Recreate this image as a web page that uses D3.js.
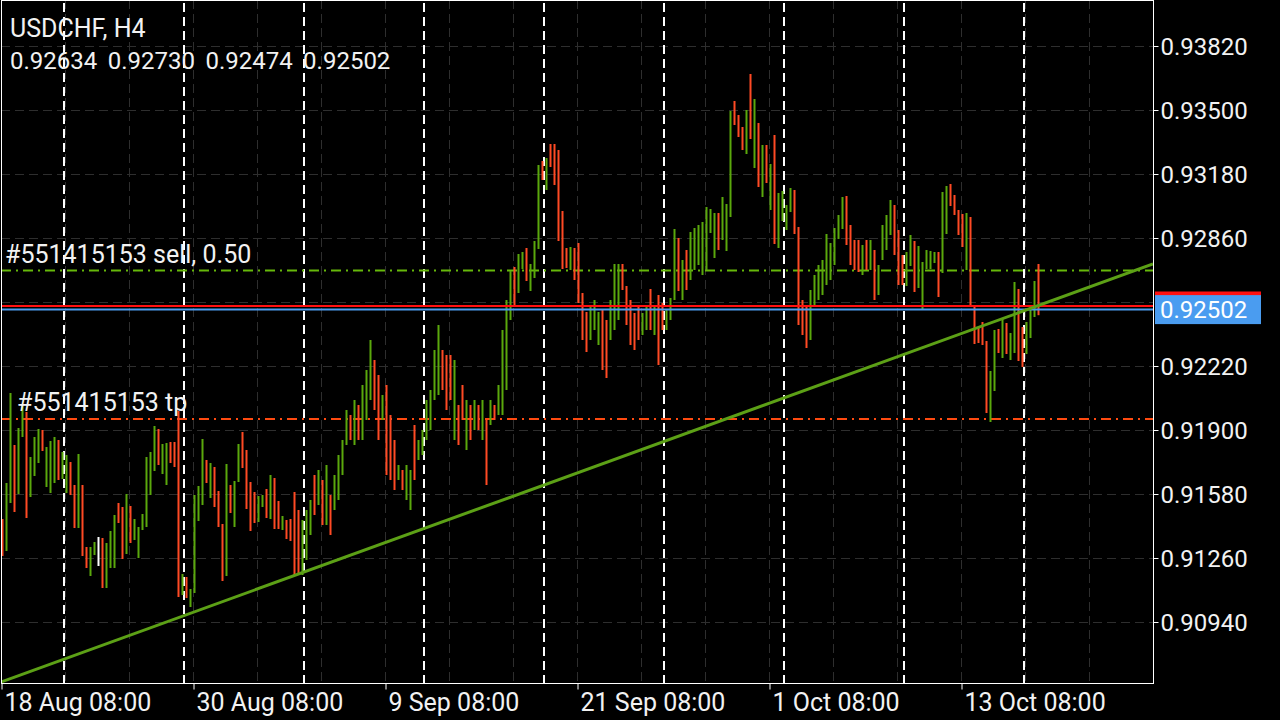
<!DOCTYPE html>
<html>
<head>
<meta charset="utf-8">
<script src="https://cdn.jsdelivr.net/npm/d3@7"></script>
<style>
  body { margin: 0; background: #000; }
  svg { display: block; font-family: Roboto, "Noto Sans", sans-serif; }
</style>
</head>
<body>
<div id="chart"></div>
<script>
// H4 bars, oldest first (high / low / direction u=up d=down n=doji)
const highs = [
  0.91455,0.91635,0.92085,0.91825,0.91910,0.92025,0.91990,0.91765,0.91865,0.91905,
  0.91900,0.91815,0.91845,0.91865,0.91850,0.91790,0.91775,0.91740,0.91625,0.91780,
  0.91625,0.91315,0.91315,0.91340,0.91365,0.91360,0.91335,0.91395,0.91475,0.91535,
  0.91515,0.91580,0.91520,0.91455,0.91415,0.91480,0.91765,0.91790,0.91920,0.91905,
  0.91830,0.91835,0.91840,0.91840,0.91995,0.91180,0.91165,0.91105,0.91575,0.91620,
  0.91855,0.91750,0.91735,0.91715,0.91595,0.91430,0.91730,0.91625,0.91645,0.91830,
  0.91890,0.91800,0.91640,0.91590,0.91570,0.91575,0.91605,0.91675,0.91660,0.91545,
  0.91470,0.91450,0.91455,0.91590,0.91500,0.91450,0.91500,0.91550,0.91675,0.91700,
  0.91650,0.91725,0.91575,0.91675,0.91775,0.91850,0.92000,0.91975,0.92050,0.92025,
  0.92125,0.92200,0.92350,0.92250,0.92175,0.92075,0.92125,0.91975,0.91850,0.91725,
  0.91700,0.91725,0.91700,0.91925,0.91850,0.91900,0.92050,0.92100,0.92300,0.92425,
  0.92300,0.92275,0.92275,0.92250,0.92025,0.92125,0.92050,0.92025,0.92050,0.92025,
  0.92050,0.91950,0.92050,0.92025,0.92125,0.92400,0.92550,0.92695,0.92715,0.92780,
  0.92790,0.92810,0.92730,0.92845,0.93225,0.93245,0.93260,0.93330,0.93330,0.93300,
  0.92995,0.92810,0.92815,0.92810,0.92835,0.92585,0.92490,0.92525,0.92550,0.92490,
  0.92500,0.92450,0.92550,0.92730,0.92730,0.92730,0.92620,0.92550,0.92485,0.92525,
  0.92485,0.92515,0.92605,0.92520,0.92575,0.92535,0.92500,0.92560,0.92905,0.92860,
  0.92750,0.92800,0.92890,0.92910,0.92925,0.92940,0.93015,0.93005,0.92985,0.92985,
  0.93065,0.93030,0.93495,0.93545,0.93475,0.93415,0.93500,0.93680,0.93555,0.93435,
  0.93325,0.93325,0.93230,0.93375,0.93085,0.93095,0.93025,0.93110,0.93100,0.92915,
  0.92550,0.92525,0.92600,0.92675,0.92725,0.92750,0.92880,0.92835,0.92910,0.92975,
  0.93065,0.93070,0.92925,0.92850,0.92850,0.92825,0.92850,0.92850,0.92800,0.92725,
  0.92925,0.92975,0.93050,0.93025,0.92900,0.92775,0.92790,0.92875,0.92845,0.92820,
  0.92740,0.92800,0.92795,0.92790,0.92790,0.93090,0.93120,0.93130,0.93075,0.93000,
  0.92980,0.92985,0.92965,0.92525,0.92415,0.92440,0.92345,0.92195,0.92400,0.92405,
  0.92460,0.92435,0.92385,0.92640,0.92605,0.92415,0.92440,0.92520,0.92645,0.92730
];
const lows = [
  0.91270,0.91295,0.91535,0.91490,0.91580,0.91865,0.91460,0.91565,0.91670,0.91735,
  0.91795,0.91615,0.91585,0.91635,0.91650,0.91655,0.91585,0.91575,0.91410,0.91410,
  0.91270,0.91210,0.91170,0.91275,0.91220,0.91110,0.91110,0.91210,0.91210,0.91435,
  0.91255,0.91280,0.91335,0.91350,0.91260,0.91400,0.91415,0.91575,0.91695,0.91725,
  0.91680,0.91625,0.91735,0.91715,0.91065,0.91075,0.91060,0.91015,0.91085,0.91445,
  0.91525,0.91635,0.91560,0.91515,0.91415,0.91145,0.91170,0.91485,0.91415,0.91640,
  0.91710,0.91505,0.91395,0.91435,0.91440,0.91515,0.91460,0.91455,0.91405,0.91405,
  0.91400,0.91355,0.91345,0.91170,0.91185,0.91175,0.91250,0.91375,0.91475,0.91525,
  0.91425,0.91425,0.91375,0.91500,0.91550,0.91675,0.91825,0.91850,0.91825,0.91850,
  0.91850,0.91950,0.92050,0.92000,0.91850,0.91950,0.91675,0.91650,0.91600,0.91650,
  0.91600,0.91550,0.91500,0.91650,0.91750,0.91775,0.91850,0.91900,0.92050,0.92075,
  0.92100,0.92000,0.92050,0.91850,0.91825,0.91950,0.91800,0.91850,0.91900,0.91900,
  0.91850,0.91625,0.91925,0.91950,0.91975,0.91975,0.92100,0.92450,0.92525,0.92585,
  0.92705,0.92645,0.92595,0.92660,0.92805,0.93150,0.93100,0.93215,0.93125,0.92845,
  0.92705,0.92710,0.92700,0.92650,0.92535,0.92350,0.92290,0.92350,0.92400,0.92325,
  0.92200,0.92160,0.92350,0.92400,0.92450,0.92600,0.92425,0.92325,0.92300,0.92350,
  0.92375,0.92400,0.92400,0.92375,0.92225,0.92400,0.92400,0.92450,0.92550,0.92595,
  0.92550,0.92600,0.92650,0.92700,0.92725,0.92675,0.92700,0.92885,0.92760,0.92800,
  0.92850,0.92795,0.92965,0.93425,0.93365,0.93300,0.93280,0.93355,0.93210,0.93115,
  0.93065,0.93135,0.93000,0.92830,0.92810,0.92945,0.92900,0.92990,0.92880,0.92425,
  0.92375,0.92310,0.92350,0.92525,0.92550,0.92575,0.92625,0.92650,0.92725,0.92855,
  0.92905,0.92825,0.92725,0.92700,0.92690,0.92675,0.92700,0.92700,0.92550,0.92575,
  0.92750,0.92800,0.92875,0.92775,0.92625,0.92625,0.92620,0.92720,0.92590,0.92610,
  0.92505,0.92705,0.92705,0.92735,0.92565,0.92685,0.92880,0.93020,0.92975,0.92875,
  0.92815,0.92700,0.92515,0.92330,0.92335,0.92325,0.91985,0.91940,0.92095,0.92285,
  0.92260,0.92280,0.92250,0.92285,0.92245,0.92215,0.92280,0.92360,0.92465,0.92474
];
const dirs =
  'duuduuduuu' + 'duuuduuddu' + 'dduunduuud' + 'duduuuuuud' + 'uuddduduuu' +
  'ududdduduu' + 'dddduududd' + 'udddduuudu' + 'duduuuudud' + 'uuuddudddu' +
  'duuduuuuuu' + 'ddduddudud' + 'ududuuuudu' + 'uduuududdd' + 'ddudddduuu' +
  'dduuuddddd' + 'uududduuud' + 'uduuuuuuud' + 'uuudddudud' + 'ududuuuudd' +
  'dduuuuuuuu' + 'uddddududu' + 'uuuddduudu' + 'uuuuduuddd' + 'duddddduud' +
  'uduudduuud';

const lastOHLC = ['0.92634', '0.92730', '0.92474', '0.92502'];
const bidPrice = 0.92502;
const askPrice = 0.92520;
const sellPrice = 0.92697;
const tpPrice = 0.91955;
const trendPoints = [[0, 0.90640], [288, 0.92730]];

const gridPrices = [0.93820, 0.93500, 0.93180, 0.92860, 0.92540, 0.92220, 0.91900, 0.91580, 0.91260, 0.90940];
// 0.92540 sits under the bid tag, so it gets no label
const priceTicks = [0.93820, 0.93500, 0.93180, 0.92860, 0.92220, 0.91900, 0.91580, 0.91260, 0.90940];
const timeTickBars = [0, 48, 96, 144, 192, 240];
const timeLabels = ['18 Aug 08:00', '30 Aug 08:00', '9 Sep 08:00', '21 Sep 08:00', '1 Oct 08:00', '13 Oct 08:00'];
const gridBars = [0, 16, 32, 48, 64, 80, 96, 112, 128, 144, 160, 176, 192, 208, 224, 240, 256, 272];
const weekStarts = [15.75, 45.75, 75.75, 105.75, 135.75, 165.75, 195.75, 225.75, 255.75];

const width = 1280;
const height = 720;
const plot = { left: 1, right: 1153, top: 0, bottom: 683 };

const upColor = '#5aa80c';
const downColor = '#ff4a24';
const textColor = '#f2f2f2';

const bars = highs.map((h, i) => ({ i, high: h, low: lows[i], dir: dirs[i] }));

const x = d3.scaleLinear().domain([0, 288]).range([plot.left, plot.right]);
const y = d3.scaleLinear().domain([0.90635, 0.94050]).range([plot.bottom, plot.top]);

const svg = d3.select('#chart')
  .append('svg')
  .attr('width', width)
  .attr('height', height)
  .style('background', '#000');

svg.append('defs').append('clipPath')
  .attr('id', 'plotClip')
  .append('rect')
  .attr('x', plot.left)
  .attr('y', plot.top)
  .attr('width', plot.right - plot.left)
  .attr('height', plot.bottom - plot.top);

// grid
const grid = svg.append('g').attr('stroke', '#2e2e2e').attr('stroke-width', 1).attr('stroke-dasharray', '9,5');
grid.selectAll('.hgrid')
  .data(gridPrices)
  .enter()
  .append('line')
  .attr('x1', plot.left)
  .attr('x2', plot.right)
  .attr('y1', d => Math.round(y(d)) + 0.5)
  .attr('y2', d => Math.round(y(d)) + 0.5);
grid.selectAll('.vgrid')
  .data(gridBars)
  .enter()
  .append('line')
  .attr('x1', d => x(d) + 0.5)
  .attr('x2', d => x(d) + 0.5)
  .attr('y1', plot.top)
  .attr('y2', plot.bottom);

// period separators
svg.append('g')
  .selectAll('line')
  .data(weekStarts)
  .enter()
  .append('line')
  .attr('x1', d => x(d))
  .attr('x2', d => x(d))
  .attr('y1', plot.top + 3)
  .attr('y2', plot.bottom)
  .attr('stroke', '#ffffff')
  .attr('stroke-width', 2)
  .attr('stroke-dasharray', '9,5');

// order levels
const levels = svg.append('g');
levels.append('line')
  .attr('x1', plot.left).attr('x2', plot.right)
  .attr('y1', y(sellPrice)).attr('y2', y(sellPrice))
  .attr('stroke', '#66b80a').attr('stroke-width', 2)
  .attr('stroke-dasharray', '10,5,2,5');
levels.append('line')
  .attr('x1', plot.left).attr('x2', plot.right)
  .attr('y1', y(tpPrice)).attr('y2', y(tpPrice))
  .attr('stroke', '#ff4a10').attr('stroke-width', 2)
  .attr('stroke-dasharray', '10,5,2,5');

// bars
svg.append('g')
  .selectAll('rect')
  .data(bars)
  .enter()
  .append('rect')
  .attr('x', d => x(d.i) + 0.5)
  .attr('width', 2)
  .attr('y', d => y(d.high))
  .attr('height', d => Math.max(1, y(d.low) - y(d.high)))
  .attr('fill', d => d.dir === 'u' ? upColor : d.dir === 'd' ? downColor : '#ffffff');

// ask / bid lines
svg.append('line')
  .attr('x1', plot.left).attr('x2', plot.right)
  .attr('y1', y(askPrice)).attr('y2', y(askPrice))
  .attr('stroke', '#ff1010').attr('stroke-width', 2);
svg.append('line')
  .attr('x1', plot.left).attr('x2', plot.right)
  .attr('y1', y(bidPrice)).attr('y2', y(bidPrice))
  .attr('stroke', '#4a9cf0').attr('stroke-width', 2);

// trend line
svg.append('line')
  .attr('clip-path', 'url(#plotClip)')
  .attr('x1', x(trendPoints[0][0])).attr('y1', y(trendPoints[0][1]))
  .attr('x2', x(trendPoints[1][0])).attr('y2', y(trendPoints[1][1]))
  .attr('stroke', '#5ca016').attr('stroke-width', 3);

// level labels
svg.append('text')
  .attr('x', 5).attr('y', y(sellPrice) - 8)
  .attr('fill', textColor).style('font-size', '25px')
  .text('#551415153 sell, 0.50');
svg.append('text')
  .attr('x', 17).attr('y', y(tpPrice) - 8)
  .attr('fill', textColor).style('font-size', '25px')
  .text('#551415153 tp');

// frame
svg.append('rect')
  .attr('x', plot.left + 0.5)
  .attr('y', plot.top + 0.5)
  .attr('width', plot.right - plot.left)
  .attr('height', plot.bottom - plot.top)
  .attr('fill', 'none')
  .attr('stroke', '#ffffff')
  .attr('stroke-width', 1);

// price axis
const yAxis = svg.append('g')
  .attr('transform', `translate(${plot.right + 0.5},0)`)
  .call(d3.axisRight(y).tickValues(priceTicks).tickSize(5).tickPadding(2).tickFormat(d3.format('.5f')));
yAxis.select('.domain').remove();
yAxis.selectAll('line').attr('stroke', '#ffffff');
yAxis.selectAll('text')
  .attr('fill', textColor)
  .style('font-size', '24px')
  .style('font-family', 'Roboto, sans-serif')
  .attr('dy', '0.36em');

// time axis
const xAxis = svg.append('g')
  .attr('transform', `translate(0,${plot.bottom + 0.5})`)
  .call(d3.axisBottom(x).tickValues(timeTickBars).tickSize(6).tickPadding(4).tickFormat((d, i) => timeLabels[i]));
xAxis.select('.domain').remove();
xAxis.selectAll('line').attr('stroke', '#ffffff').attr('transform', 'translate(0.5,0)');
xAxis.selectAll('text')
  .attr('fill', textColor)
  .attr('text-anchor', 'start')
  .attr('x', 3)
  .style('font-size', '25px')
  .style('font-family', 'Roboto, sans-serif');

// bid / ask price tags
svg.append('rect')
  .attr('x', 1155).attr('y', y(askPrice) - 14.5)
  .attr('width', 106).attr('height', 29)
  .attr('fill', '#ff1010');
svg.append('rect')
  .attr('x', 1155).attr('y', y(bidPrice) - 14.5)
  .attr('width', 106).attr('height', 29)
  .attr('fill', '#4a9cf0');
svg.append('text')
  .attr('x', 1160).attr('y', y(bidPrice))
  .attr('dy', '0.36em')
  .attr('fill', '#ffffff')
  .style('font-size', '24px')
  .text(d3.format('.5f')(bidPrice));

// header
svg.append('text')
  .attr('x', 10).attr('y', 37)
  .attr('fill', textColor).style('font-size', '25px')
  .text('USDCHF, H4');
svg.append('g')
  .selectAll('text')
  .data(lastOHLC)
  .enter()
  .append('text')
  .attr('x', (d, i) => 10 + i * 97.7)
  .attr('y', 69)
  .attr('fill', textColor)
  .style('font-size', '24px')
  .text(d => d);
</script>
</body>
</html>
